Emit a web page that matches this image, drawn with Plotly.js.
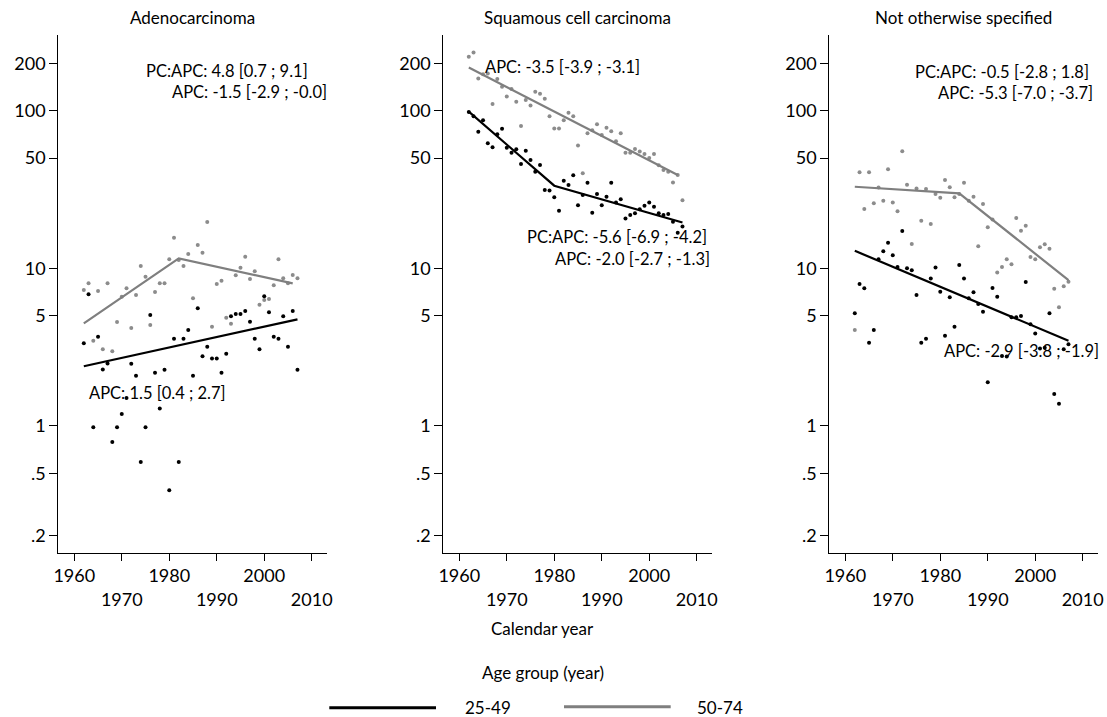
<!DOCTYPE html>
<html>
<head>
<meta charset="utf-8">
<script src="https://cdn.plot.ly/plotly-3.0.1.min.js"></script>
<style>
html,body{margin:0;padding:0;background:#fff;}
#chart{width:1107px;height:717px;}
</style>
</head>
<body>
<div id="chart"></div>
<script>
// ---------- data ----------
const years = [1962,1963,1964,1965,1966,1967,1968,1969,1970,1971,1972,1973,1974,1975,1976,1977,1978,1979,1980,1981,1982,1983,1984,1985,1986,1987,1988,1989,1990,1991,1992,1993,1994,1995,1996,1997,1998,1999,2000,2001,2002,2003,2004,2005,2006,2007];

const panelTitles = ["Adenocarcinoma", "Squamous cell carcinoma", "Not otherwise specified"];
const groupNames = ["25-49", "50-74"];

// Adenocarcinoma
const adenoYoung = [3.34,6.83,0.98,3.68,2.28,2.49,0.79,0.98,1.19,1.5,2.48,2.08,0.59,0.98,5.05,2.17,1.29,2.27,0.39,3.57,0.59,3.57,4.06,2.08,5.57,2.76,3.18,2.67,2.67,2.17,2.87,4.95,5.12,5.12,5.35,4.58,3.57,3.06,6.63,5.25,3.68,3.57,4.95,3.18,5.35,2.27];
const adenoOld = [7.28,8.02,3.47,7.17,3.06,8.02,2.97,4.56,6.6,7.46,4.18,6.76,10.33,8.84,4.36,7.06,8.02,8.02,11.39,15.6,11.3,10.33,12.31,6.44,14.04,12.56,19.66,4.26,7.94,8.34,4.86,4.45,9.02,10.08,11.84,8.54,9.56,5.87,6.29,6.38,7.79,11.39,8.63,8.02,9.06,8.63];
const adenoFitYoungYears = [1962, 2007];
const adenoFitYoung = [2.39, 4.74];
const adenoFitOldYears = [1962, 1982, 2006];
const adenoFitOld = [4.47, 11.56, 8.02];

// Squamous cell carcinoma
const squamYoung = [98,92,73.6,87,62,58.5,70.8,76.8,58.2,54,56.8,45.9,55.7,48.6,41,45.2,31.4,31.1,28.2,23.2,35.9,33.7,38.9,25.1,29.2,34.9,22.5,29.6,25.1,28.4,34.9,26.1,27.4,20.7,21.8,22.3,23.7,24.9,26.1,24.6,22.3,21.8,22.1,19.7,16.8,18.4];
const squamOld = [220,234,160,170,172,110,159,142,123,137,114,80,117,108,132,128,119,92,77,77,87,97,92,60,40,72,75,82,70,78,74,64,72,54,54,57,55,53,50,53,45,42,41,35,39,27];
const squamFitYoungYears = [1962, 1980, 2007];
const squamFitYoung = [98.5, 33.4, 19.5];
const squamFitOldYears = [1962, 2006];
const squamFitOld = [188, 39];

// Not otherwise specified
const nosYoung = [5.18,7.94,7.46,3.37,4.06,11.4,12.8,14.5,12.1,10.2,17.2,10.0,9.7,6.76,3.37,3.57,8.6,10.1,7.1,3.73,6.54,4.26,10.5,8.6,6.44,7.03,5.93,5.3,1.89,7.49,6.6,2.77,2.75,4.88,4.88,4.98,8.18,4.41,3.86,3.1,3.13,5.18,1.59,1.38,3.06,3.29];
const nosOld = [4.06,40.6,23.8,40.6,25.8,32.5,26.8,42.4,26.1,23.0,55.2,33.9,14.25,32.1,20.0,31.8,19.1,29.6,28.0,36.3,32.6,28.2,29.6,34.9,26.8,28.4,13.8,25.6,18.2,20.4,9.4,10.2,11.4,10.6,20.8,17.3,18.6,11.8,11.4,13.6,14.2,13.3,7.4,5.65,7.7,8.2];
const nosFitYoungYears = [1962, 2007];
const nosFitYoung = [12.9, 3.47];
const nosFitOldYears = [1962, 1984, 2007];
const nosFitOld = [32.9, 29.9, 8.4];

const yTickVals = [0.2, 0.5, 1, 5, 10, 50, 100, 200];
const yTickText = [".2", ".5", "1", "5", "10", "50", "100", "200"];
const xTickVals = [1960, 1970, 1980, 1990, 2000, 2010];
const xTickText = ["1960", "\u00a0<br>1970", "1980", "\u00a0<br>1990", "2000", "\u00a0<br>2010"];

const panelNotes = [
  ["PC:APC: 4.8 [0.7 ; 9.1]", "APC: -1.5 [-2.9 ; -0.0]", "APC: 1.5 [0.4 ; 2.7]"],
  ["APC: -3.5 [-3.9 ; -3.1]", "PC:APC: -5.6 [-6.9 ; -4.2]", "APC: -2.0 [-2.7 ; -1.3]"],
  ["PC:APC: -0.5 [-2.8 ; 1.8]", "APC: -5.3 [-7.0 ; -3.7]", "APC: -2.9 [-3.8 ; -1.9]"]
];
const xAxisTitle = "Calendar year";
const legendTitle = "Age group (year)";

// ---------- styling ----------
const W = 1107, H = 717;
const FONT = "Lato, 'Open Sans', sans-serif";
const BLACK = "#000000";
const GREY_LINE = "#7f7f7f";
const GREY_PT = "#8c8c8c";
const px = v => v / W;
const py = v => 1 - v / H;

const panels = [
  {young: adenoYoung, old: adenoOld, fyx: adenoFitYoungYears, fy: adenoFitYoung, fox: adenoFitOldYears, fo: adenoFitOld},
  {young: squamYoung, old: squamOld, fyx: squamFitYoungYears, fy: squamFitYoung, fox: squamFitOldYears, fo: squamFitOld},
  {young: nosYoung, old: nosOld, fyx: nosFitYoungYears, fy: nosFitYoung, fox: nosFitOldYears, fo: nosFitOld}
];
const axLeft = [58.3, 443.3, 829.3];
const axWidth = 268.7;

const traces = [];
panels.forEach((p, i) => {
  const xa = i === 0 ? "x" : "x" + (i + 1);
  const ya = i === 0 ? "y" : "y" + (i + 1);
  traces.push({x: years, y: p.old, xaxis: xa, yaxis: ya, type: "scatter", mode: "markers",
    marker: {color: GREY_PT, size: 4}, name: groupNames[1], showlegend: false, hoverinfo: "skip"});
  traces.push({x: years, y: p.young, xaxis: xa, yaxis: ya, type: "scatter", mode: "markers",
    marker: {color: BLACK, size: 4}, name: groupNames[0], showlegend: false, hoverinfo: "skip"});
  traces.push({x: p.fox, y: p.fo, xaxis: xa, yaxis: ya, type: "scatter", mode: "lines",
    line: {color: GREY_LINE, width: 2.2}, name: groupNames[1], showlegend: false, hoverinfo: "skip"});
  traces.push({x: p.fyx, y: p.fy, xaxis: xa, yaxis: ya, type: "scatter", mode: "lines",
    line: {color: BLACK, width: 2.2}, name: groupNames[0], showlegend: false, hoverinfo: "skip"});
});

const layout = {
  width: W, height: H,
  margin: {l: 0, r: 0, t: 0, b: 0},
  paper_bgcolor: "#fff", plot_bgcolor: "#fff",
  showlegend: false,
  font: {family: FONT, color: "#000", size: 17},
  annotations: [],
  shapes: []
};

const yDomain = [1 - 552.7 / H, 1 - 35 / H];
for (let i = 0; i < 3; i++) {
  const sx = i === 0 ? "" : String(i + 1);
  layout["xaxis" + sx] = {
    domain: [px(axLeft[i]), px(axLeft[i] + axWidth)],
    anchor: "y" + sx,
    range: [1956.63, 2013.22],
    showline: true, linecolor: "#000", linewidth: 1,
    showgrid: false, zeroline: false,
    ticks: "outside", ticklen: 7, tickcolor: "#000", tickwidth: 1,
    tickmode: "array", tickvals: xTickVals, ticktext: xTickText,
    tickfont: {family: FONT, size: 18, color: "#000"},
    fixedrange: true
  };
  layout["yaxis" + sx] = {
    domain: yDomain,
    anchor: "x" + sx,
    type: "log",
    range: [-0.805, 2.480],
    showline: true, linecolor: "#000", linewidth: 1,
    showgrid: false, zeroline: false,
    ticks: "outside", ticklen: 8, tickcolor: "#000", tickwidth: 1,
    tickmode: "array", tickvals: yTickVals, ticktext: yTickText,
    tickfont: {family: FONT, size: 18, color: "#000"},
    fixedrange: true
  };
  layout.annotations.push({
    text: panelTitles[i], xref: "paper", yref: "paper",
    x: px(axLeft[i] + axWidth / 2), y: py(17), xanchor: "center", yanchor: "middle",
    showarrow: false, font: {family: FONT, size: 17, color: "#000"}
  });
}

// stat notes: [left x px, center y px]
const notePos = [
  [[144, 71], [170, 92], [87.3, 393.3]],
  [[483.3, 66.7], [525, 237.3], [553.3, 259.3]],
  [[913.3, 72], [936, 93], [941.7, 350.7]]
];
for (let i = 0; i < 3; i++) {
  for (let j = 0; j < 3; j++) {
    layout.annotations.push({
      text: panelNotes[i][j], xref: "paper", yref: "paper",
      x: px(notePos[i][j][0]), y: py(notePos[i][j][1]), xanchor: "left", yanchor: "middle",
      showarrow: false, font: {family: FONT, size: 16.5, color: "#000"}
    });
  }
}

// axis title and legend
layout.annotations.push({text: xAxisTitle, xref: "paper", yref: "paper", x: px(542.5), y: py(628),
  xanchor: "center", yanchor: "middle", showarrow: false, font: {family: FONT, size: 17, color: "#000"}});
layout.annotations.push({text: legendTitle, xref: "paper", yref: "paper", x: px(542.5), y: py(672),
  xanchor: "center", yanchor: "middle", showarrow: false, font: {family: FONT, size: 17, color: "#000"}});
layout.annotations.push({text: groupNames[0], xref: "paper", yref: "paper", x: px(488), y: py(707),
  xanchor: "center", yanchor: "middle", showarrow: false, font: {family: FONT, size: 17, color: "#000"}});
layout.annotations.push({text: groupNames[1], xref: "paper", yref: "paper", x: px(720), y: py(707),
  xanchor: "center", yanchor: "middle", showarrow: false, font: {family: FONT, size: 17, color: "#000"}});
layout.shapes.push({type: "line", xref: "paper", yref: "paper", x0: px(329.3), x1: px(436), y0: py(707.7), y1: py(707.7),
  line: {color: BLACK, width: 3}});
layout.shapes.push({type: "line", xref: "paper", yref: "paper", x0: px(564), x1: px(670.7), y0: py(706.7), y1: py(706.7),
  line: {color: GREY_LINE, width: 3}});

Plotly.newPlot("chart", traces, layout, {displayModeBar: false, staticPlot: true});
</script>
</body>
</html>
